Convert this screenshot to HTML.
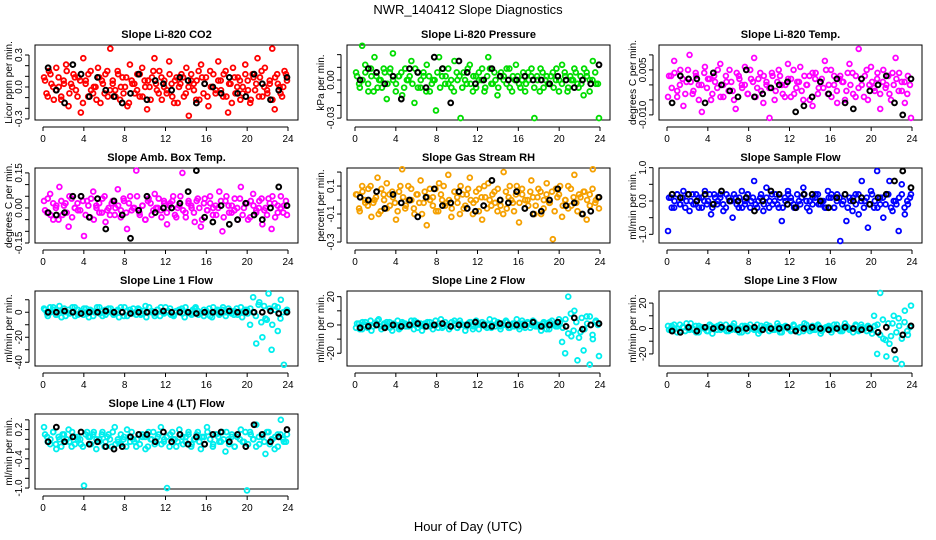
<!DOCTYPE html>
<html><head><meta charset="utf-8"><style>
body{margin:0;background:#fff;}
svg{display:block;font-family:"Liberation Sans",Arial,sans-serif;}
</style></head><body>
<svg id="chart" width="936" height="540" viewBox="0 0 936 540" xmlns="http://www.w3.org/2000/svg">
<rect width="936" height="540" fill="#fff"/>
<text x="468" y="14" text-anchor="middle" font-size="13">NWR_140412  Slope Diagnostics</text>
<text x="468" y="531" text-anchor="middle" font-size="13">Hour of Day (UTC)</text>
</svg>
<script>
const xTicks=[0,4,8,12,16,20,24];
const co2=[3,-2,5,1,-4,6,0,-3,2,7,-6,1,4,-1,3,-8,9,2,-3,5,-2,0,6,-5,1,4,-3,12,2,-1,5,-4,3,0,-6,7,1,-2,4,-3,6,2,-7,0,3,9,-1,5,-4,2,-2,8,1,-5,3,0,4,-3,6,-9,2,1,-4,5,7,-2,3,-6,0,4,-1,8,2,-3,5,-8,1,6,-2,3,-4,0,7,2,-5,4,-1,9,3,-3,6,-2,1,12,-7,4,0,-3,5,2];
const co2Band=[2,-3,4,0,-1,3,-4,1,5,-2,0,3,-3,2,-5,1,4,-1,0,-4,3,2,-2,5,-1,1,-3,4,0,-2,3,-5,2,1,-1,4,-3,0,2,-4,5,1,-2,3,0,-1,4,-3,2,-5,1,3,-2,0,4,-1,2,-4,3,1,-3,5,0,-2,2,-1,4,-3,1,-5,3,0,2,-2,4,-1,-4,3,1,-3,5,0,-1,2,-4,3,1,-2,0,4];
const co2Blk=[6,-1,-5,7,4,-3,3,-1,-3,-5,-2,4,-4,2,1,-1,3,2,-5,1,0,-2,3,-2,-3,4,1,-4,-1,3];
const press=[2,-1,9,4,-3,1,6,-2,0,3,-5,2,7,-1,1,-4,3,0,5,-6,2,-2,1,4,-3,0,-8,6,1,-1,3,-2,5,0,-10,2,-1,4,-3,1,0,3,-2,6,-1,2,-4,1,0,3,-2,1,4,-1,0,-3,2,1,-10,0,3,-2,1,-1,2,0,-3,4,1,-2,0,3,-1,1,-4,2,0,5,-1,-10];
const pressBand=[1,-2,0,2,-1,3,-3,1,0,-2,2,-1,3,0,-3,1,2,-2,0,1,-1,3,-2,0,2,-3,1,-1,0,2,-2,3,1,-1,0,-3,2,1,-2,0,3,-1,1,-2,2,0,-3,1,3,-1,0,-2,2,1,-1,3,-3,0,1,-2,2,-1,0,3,-2,1,-3,2,0,-1,1,-2,3,0,-1,2,-3,1,0,2,-2,-1,3,1,-3,0,2,-1];
const pressBlk=[0,3,2,-1,1,-5,3,2,-2,6,3,-6,5,2,-1,0,3,1,0,0,1,0,0,-1,1,0,-2,0,-1,4];
const temp=[-4,3,8,-2,5,-7,1,10,-3,4,0,-9,6,2,-5,3,-1,7,-4,1,5,-2,-8,3,0,6,-3,2,9,-1,4,-6,1,-11,3,-2,5,0,-4,7,2,-3,1,6,-5,0,3,-7,4,-1,2,8,-3,5,0,-6,3,1,-2,7,4,-4,12,0,3,-5,6,-1,2,-8,5,0,-3,4,9,-2,1,-6,3,-11];
const tempBand=[3,-1,4,-4,0,2,-3,5,1,-2,3,-5,0,4,-1,2,-3,1,5,-4,0,3,-2,1,-5,4,2,-1,0,-3,5,1,-4,2,-2,3,0,-1,4,-5,1,3,-3,0,2,-4,5,-1,1,-2,3,0,-5,4,2,-3,1,-1,5,0,-4,3,-2,2,1,-5,4,0,-3,3,-1,2,-4,5,0,1,-2,4,-3,1,-1,3,-5,0,2,4,-2,1,-3,0];
const tempBlk=[-6,3,2,2,-6,4,0,-2,-4,5,-4,-3,-1,0,1,-9,-7,-4,1,-3,2,-6,-8,2,-2,0,3,-6,-10,2];
const amb=[3,-2,6,-5,1,9,-3,2,-8,4,0,-1,5,-12,3,-4,7,1,-2,4,-6,0,2,-3,8,-1,3,-9,5,0,16,-2,1,-5,4,-3,6,0,-1,3,-7,2,5,-4,1,15,-2,3,0,-6,4,-8,2,-1,5,0,-3,7,-10,3,1,-2,4,-5,9,0,2,-4,6,-1,3,-7,0,4,-9,2,-2,5,1,-3];
const ambBand=[-1,4,-3,2,0,-5,3,1,-2,5,-4,0,2,-1,3,-3,1,4,-5,0,2,-2,5,-1,-3,3,0,1,-4,4,-2,2,-1,0,5,-3,1,-5,3,2,-1,0,4,-4,2,-2,1,3,-3,0,5,-1,-4,2,1,-2,3,0,-5,4,-1,2,-3,1,0,3,-4,5,-2,1,-1,0,4,-3,2,-5,3,1,-2,0,4,-1,-3,2,5,-4,1,0,-2,3];
const ambBlk=[-2,-3,-2,5,5,-4,4,-9,3,-3,-13,-1,5,-2,0,0,2,7,16,-4,-6,1,-7,-5,2,-3,-5,0,9,1];
const rh=[2,-3,5,-1,4,-6,0,8,-4,2,6,-2,1,-7,3,11,-3,5,0,-5,2,7,-1,-9,4,1,-4,6,0,-2,9,-6,3,-1,5,-3,2,8,-5,0,4,-7,1,6,-2,3,-4,0,10,-3,5,-1,2,-8,4,0,-2,7,-5,1,3,-3,6,-1,-14,4,2,-6,0,5,-2,9,-4,1,3,-7,2,11,0,-3];
const rhBand=[2,-4,3,0,-2,5,-1,1,-5,4,0,-3,2,3,-1,-4,5,1,-2,0,4,-3,2,-1,-5,3,1,0,-2,4,-4,2,5,-1,0,-3,3,1,-5,2,-2,4,0,-1,3,-4,1,5,-3,0,2,-1,4,-2,-5,3,1,0,-4,5,-1,2,-3,0,3,1,-2,4,-5,0,2,-1,3,-4,1,5,-2,0,-3,4,1,-1,2,-5,3,0,-2,4,-1,1];
const rhBlk=[1,0,3,-3,2,-1,0,-6,1,4,-2,-1,3,-3,-4,-2,7,0,-1,3,-3,-5,-4,0,4,-2,-1,-5,-4,1];
const flow=[-9,1,-2,2,-1,3,0,-3,2,-1,1,-2,3,0,-4,2,-1,1,-3,2,0,-5,1,-2,3,-1,2,0,6,-2,1,-3,4,0,-1,2,-2,-6,1,3,0,-2,2,-1,4,0,-3,1,2,-1,0,-2,3,1,-2,2,-12,0,-6,1,-3,2,-4,6,0,-8,3,-2,9,-1,-5,2,6,-3,0,-9,5,-4,-1,2];
const flowBand=[1,-2,0,2,-1,1,-2,2,0,-1,2,-2,1,0,-1,2,-2,1,0,2,-1,-2,1,0,2,-1,1,-2,0,2,-2,1,-1,0,2,-1,1,-2,2,0,-1,1,-2,0,2,1,-1,-2,0,1,2,-2,0,-1,1,2,-1,0,-2,1,2,-2,0,1,-1,2,-2,0,1,-1,2,0,-2,1,-1,2,0,-2,1,1,-1,2,-2,0,-1,1,2,-2,0,1];
const flowBlk=[2,1,2,0,2,-1,3,0,0,1,-3,0,3,2,-1,-2,2,2,0,-2,1,2,0,1,-1,1,2,6,9,4];
const line1=[3,-1,4,2,-2,5,1,-3,2,0,4,-2,1,3,-1,2,-3,0,4,1,-2,3,0,-1,2,4,-3,1,0,3,-2,2,-1,5,0,1,-3,2,4,-1,0,3,-2,1,2,-1,4,0,-2,3,1,-1,2,0,-3,4,1,-2,2,0,3,-1,1,-2,4,0,2,-10,12,-25,8,-20,-5,15,-30,5,-15,10,-42,2];
const line1Band=[2,-3,0,4,-2,1,-4,3,0,-1,4,-3,2,0,-2,3,-4,1,0,4,-1,-3,2,0,3,-2,1,-4,0,4,-3,2,-1,0,3,-2,1,-4,4,0,-1,2,-3,0,4,1,-2,-3,0,2,3,-4,0,-1,2,4,-2,0,-3,1,3,-4,0,2,-1,4,-3,0,1,-2,3,0,-4,2,-1,3,0,-3,6,-8,5,-6,3,-10,2,4,-5,0,1];
const line1Blk=[0,0,1,0,-1,0,0,1,0,0,-1,0,0,0,1,0,0,0,-1,0,0,0,1,0,0,0,0,1,-1,0];
const line2=[-2,1,-3,2,0,-4,1,3,-1,0,2,-2,1,0,-3,2,1,-1,0,3,-2,1,0,-1,2,-3,0,1,-2,2,0,-1,3,-2,1,0,-1,2,-3,0,1,2,-1,0,-2,3,1,-1,0,2,-2,1,0,-1,3,-2,1,0,2,-1,0,1,-3,2,0,-1,4,-12,-20,20,-8,10,-25,-5,-18,6,-28,-10,3,-22];
const line2Band=[1,-3,2,0,-2,3,-1,0,4,-3,1,-1,2,-4,0,3,-2,1,-1,0,3,-3,2,0,-4,1,2,-1,0,3,-2,4,-1,0,-3,2,1,-2,3,0,-4,1,2,-1,3,-3,0,1,-2,4,0,-1,2,-3,1,3,-2,0,-1,4,-3,1,0,2,-2,3,-1,0,-4,2,1,-3,3,0,-1,2,-2,4,-6,8,-4,2,-9,5,-3,1,6,-7,2,0];
const line2Blk=[-2,-1,0,-2,0,-1,0,1,-1,0,1,-1,0,0,2,0,-1,1,0,0,0,2,-1,0,2,-1,5,-3,0,1];
const line3=[2,-1,3,0,-2,1,4,-1,0,2,-3,1,0,-2,2,1,-1,3,0,-2,1,2,-1,0,-3,2,1,0,-1,3,-2,0,1,2,-1,0,2,-3,1,0,-1,2,0,1,-2,3,0,-1,1,2,-2,0,1,-1,3,0,-2,1,2,-1,0,3,-2,1,0,2,-1,10,-20,28,-8,-22,-12,4,-24,8,-28,14,-5,18];
const line3Band=[-1,2,0,-3,3,1,-2,0,4,-1,-3,2,1,0,-2,3,-4,1,2,-1,0,3,-2,-1,4,0,-3,2,1,-2,3,0,-1,-4,2,1,3,-2,0,-1,4,-3,1,2,0,-2,3,-1,-3,1,4,0,-2,2,-1,3,-4,0,1,2,-3,0,3,-1,-2,4,1,0,-3,2,-1,3,0,-2,1,-4,2,3,-5,7,-9,4,-6,10,-3,2,-8,5,-2,1];
const line3Blk=[-2,-3,1,-2,1,0,1,0,-1,0,1,-1,0,0,1,-2,0,1,0,-1,0,1,0,-1,0,-3,1,-17,-5,2];
const line4=[5,1,-2,3,-4,0,2,-1,4,-3,1,0,-2,-19,3,1,2,-4,0,3,-1,2,-3,5,0,-2,1,4,-1,0,-3,2,1,-4,3,0,-2,1,5,-1,-20,2,0,-3,4,1,-1,2,-2,0,3,-4,1,5,0,-2,2,-1,3,-5,0,1,-3,2,4,-1,-21,3,0,6,-2,1,-6,3,0,-4,2,8,-1,2];
const line4Band=[2,-1,0,3,-2,1,-3,2,0,-1,3,-2,1,0,-3,2,1,-2,3,0,-1,2,-3,1,0,3,-2,-1,2,0,-3,1,3,-1,0,-2,2,1,-3,0,3,-1,2,-2,0,1,-3,3,0,-1,2,-2,1,3,-3,0,2,-1,1,-2,3,0,-3,2,1,-1,0,3,-2,2,-3,1,0,-1,3,-2,2,0,-3,1,2,-1,3,-2,0,1,-3,2,0,-1];
const line4Blk=[-1,5,-1,1,3,-2,-1,-3,-4,-3,1,2,2,-1,3,-1,2,-2,1,-2,2,3,-1,2,-3,6,2,-1,1,4];

const panels=[
 {name:"co2",title:"Slope Li-820 CO2",ylab:"Licor ppm per min.",vals:co2,band:co2Band,blk:co2Blk,unit:0.03,ymin:-0.31,ymax:0.394,ticks:[-0.3,-0.2,-0.1,0,0.1,0.2,0.3],labels:{"-0.3":"-0.3","0":"0.0","0.3":"0.3"},color:"#ff0000"},
 {name:"pressure",title:"Slope Li-820 Pressure",ylab:"kPa per min.",vals:press,band:pressBand,blk:pressBlk,unit:0.003,ymin:-0.0315,ymax:0.0276,ticks:[-0.03,-0.02,-0.01,0,0.01,0.02],labels:{"-0.03":"-0.03","0":"0.00"},color:"#00dd00"},
 {name:"temp",title:"Slope Li-820 Temp.",ylab:"degrees C per min.",vals:temp,band:tempBand,blk:tempBlk,unit:0.001,ymin:-0.0117,ymax:0.0133,ticks:[-0.01,-0.005,0,0.005,0.01],labels:{"-0.01":"-0.010","0.005":"0.005"},color:"#ff00ff"},
 {name:"amb-box-temp",title:"Slope Amb. Box Temp.",ylab:"degrees C per min.",vals:amb,band:ambBand,blk:ambBlk,unit:0.01,ymin:-0.15,ymax:0.171,ticks:[-0.15,-0.1,-0.05,0,0.05,0.1,0.15],labels:{"-0.15":"-0.15","0":"0.00","0.15":"0.15"},color:"#ff00ff"},
 {name:"gas-rh",title:"Slope Gas Stream RH",ylab:"percent per min.",vals:rh,band:rhBand,blk:rhBlk,unit:0.02,ymin:-0.307,ymax:0.229,ticks:[-0.3,-0.2,-0.1,0,0.1,0.2],labels:{"-0.3":"-0.3","-0.1":"-0.1","0.1":"0.1"},color:"#f5a000"},
 {name:"sample-flow",title:"Slope Sample Flow",ylab:"ml/min per min.",vals:flow,band:flowBand,blk:flowBlk,unit:0.1,ymin:-1.26,ymax:0.99,ticks:[-1,-0.5,0,0.5,1],labels:{"-1":"-1.0","0":"0.0","1":"1.0"},color:"#0000ff"},
 {name:"line1-flow",title:"Slope Line 1 Flow",ylab:"ml/min per min.",vals:line1,band:line1Band,blk:line1Blk,unit:1,ymin:-43,ymax:17,ticks:[-40,-30,-20,-10,0,10],labels:{"-40":"-40","-20":"-20","0":"0"},color:"#00eeee"},
 {name:"line2-flow",title:"Slope Line 2 Flow",ylab:"ml/min per min.",vals:line2,band:line2Band,blk:line2Blk,unit:1,ymin:-29,ymax:24,ticks:[-20,-10,0,10,20],labels:{"-20":"-20","0":"0","20":"20"},color:"#00eeee"},
 {name:"line3-flow",title:"Slope Line 3 Flow",ylab:"ml/min per min.",vals:line3,band:line3Band,blk:line3Blk,unit:1,ymin:-29.5,ymax:29.5,ticks:[-20,-10,0,10,20],labels:{"-20":"-20","0":"0","20":"20"},color:"#00eeee"},
 {name:"line4-flow",title:"Slope Line 4 (LT) Flow",ylab:"ml/min per min.",vals:line4,band:line4Band,blk:line4Blk,unit:0.05,ymin:-1.02,ymax:0.52,ticks:[-1,-0.8,-0.6,-0.4,-0.2,0,0.2,0.4],labels:{"-1":"-1.0","-0.4":"-0.4","0.2":"0.2"},color:"#00eeee"}
];
const svg=document.getElementById('chart');
const NS="http://www.w3.org/2000/svg";
function mk(tag,attrs,parent){const e=document.createElementNS(NS,tag);for(const k in attrs)e.setAttribute(k,attrs[k]);(parent||svg).appendChild(e);return e;}
panels.forEach((p,idx)=>{
 const col=idx%3,row=Math.floor(idx/3);
 const cl=312*col,x0=cl+35,x1=cl+298,y0=45+123*row,y1=y0+75;
 const g=mk('g',{});
 
 
 const xs=h=>x0+8+h*(245/24);
 const ys=v=>y1-(v-p.ymin)/(p.ymax-p.ymin)*(y1-y0);
 const box=mk('rect',{x:x0,y:y0,width:x1-x0,height:y1-y0,fill:'none',stroke:'#000','stroke-width':1},g);
 
 
 const t=mk('text',{x:(x0+x1)/2,y:y0-7,'text-anchor':'middle','font-size':11,'font-weight':'bold'},g);
 t.textContent=p.title;
 
 
 const xa=mk('g',{},g);
 
 
 mk('line',{x1:xs(0),x2:xs(24),y1:y1+7,y2:y1+7,stroke:'#000'},xa);
 xTicks.forEach(h=>{
  mk('line',{x1:xs(h),x2:xs(h),y1:y1+7,y2:y1+11,stroke:'#000'},xa);
  const l=mk('text',{x:xs(h),y:y1+22,'text-anchor':'middle','font-size':10},xa);
  l.textContent=h;
  
  
 });
 const ya=mk('g',{},g);
 
 
 const tmin=Math.min(...p.ticks),tmax=Math.max(...p.ticks);
 mk('line',{x1:x0-6,x2:x0-6,y1:ys(tmin),y2:ys(tmax),stroke:'#000'},ya);
 p.ticks.forEach(v=>{
  mk('line',{x1:x0-10,x2:x0-6,y1:ys(v),y2:ys(v),stroke:'#000'},ya);
  const key=String(Math.round(v*1000)/1000);
  if(p.labels[key]!==undefined){
   const l=mk('text',{x:x0-13,y:ys(v),'text-anchor':'middle','font-size':10,transform:`rotate(-90 ${x0-13} ${ys(v)})`},ya);
   l.textContent=p.labels[key];
   
   
  }
 });
 const yl=mk('text',{x:cl+12,y:(y0+y1)/2,'text-anchor':'middle','font-size':10,transform:`rotate(-90 ${cl+12} ${(y0+y1)/2})`},g);
 yl.textContent=p.ylab;
 
 
 const cg=mk('g',{},g);
 
 
 const nb=p.band.length;
 p.band.forEach((v,i)=>{
  const c=mk('circle',{cx:xs(0.2+i*23.6/(nb-1)),cy:ys(v*p.unit),r:2.4,fill:'none',stroke:p.color,'stroke-width':1.8},cg);
  
  
 });
 const n=p.vals.length;
 p.vals.forEach((v,i)=>{
  const c=mk('circle',{cx:xs(0.1+i*23.8/(n-1)),cy:ys(v*p.unit),r:2.4,fill:'none',stroke:p.color,'stroke-width':1.8},cg);
  
  
 });
 const bg=mk('g',{},g);
 
 
 const m=p.blk.length;
 p.blk.forEach((v,i)=>{
  const c=mk('circle',{cx:xs(0.5+i*23.4/(m-1)),cy:ys(v*p.unit),r:2.4,fill:'none',stroke:'#000','stroke-width':2},bg);
  
  
 });
});
</script>
</body></html>
